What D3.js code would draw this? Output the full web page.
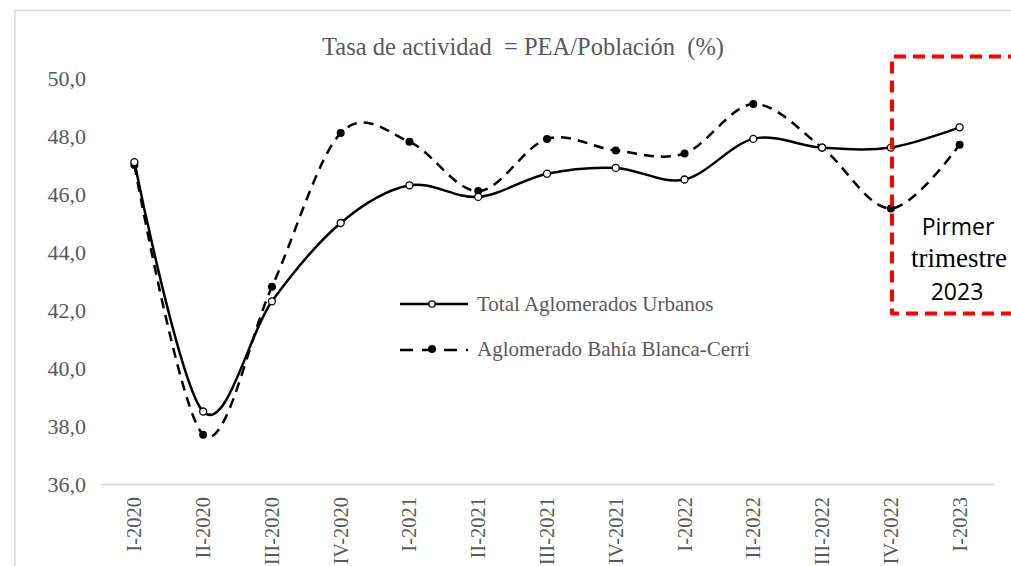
<!DOCTYPE html>
<html><head><meta charset="utf-8">
<script src="https://cdn.jsdelivr.net/npm/d3@7"></script>
<style>html,body{margin:0;padding:0;background:#fff;overflow:hidden}
.serif{font-family:"Liberation Serif","Times New Roman",Times,"DejaVu Serif",serif}
.sans{font-family:"Open Sans","Noto Sans",sans-serif}
</style>
</head><body>
<script>
const categories = ["I-2020","II-2020","III-2020","IV-2020","I-2021","II-2021","III-2021","IV-2021","I-2022","II-2022","III-2022","IV-2022","I-2023"];
const totalUrbanos = [47.1,38.5,42.3,45.0,46.3,45.9,46.7,46.9,46.5,47.9,47.6,47.6,48.3];
const bahiaBlanca = [47.0,37.7,42.8,48.1,47.8,46.1,47.9,47.5,47.4,49.1,47.6,45.5,47.7];
const yTicks = [36,38,40,42,44,46,48,50];
const seriesNames = ["Total Aglomerados Urbanos","Aglomerado Bahía Blanca-Cerri"];
const titleText = "Tasa de actividad  = PEA/Población  (%)";
const boxLines = ["Pirmer","trimestre","2023"];

const W = 1011, H = 566;
const svg = d3.select("body").append("svg").attr("width", W).attr("height", H);

svg.append("path").attr("d", "M15,566 V10.5 H1011").attr("fill","none").attr("stroke","#d9d9d9").attr("stroke-width",1.5);

const x = d3.scaleBand().domain(categories).range([100, 994]);
const cx = d => x(d) + x.bandwidth()/2;
const y = d3.scaleLinear().domain([36, 50]).range([484, 78]);

svg.append("text").attr("class","serif").attr("x", 523).attr("y", 55).attr("text-anchor","middle")
  .attr("font-size",24.5).attr("fill","#595959")
  .style("white-space","pre").text(titleText);

const yAxis = d3.axisLeft(y).tickValues(yTicks).tickSize(0).tickPadding(0)
  .tickFormat(d => d3.format(".1f")(d).replace(".", ","));
const gy = svg.append("g").attr("transform","translate(86,0)").call(yAxis);
gy.attr("font-family", null);
gy.select(".domain").remove();
gy.selectAll("text").attr("class","serif").attr("font-size",22).attr("fill","#595959").attr("dy","0.34em");

const xAxis = d3.axisBottom(x).tickSize(0).tickPadding(0);
const gx = svg.append("g").attr("transform","translate(0,484)").call(xAxis);
gx.attr("font-family", null);
gx.select(".domain").attr("stroke","#d9d9d9").attr("stroke-width",1.5);
gx.selectAll("text").attr("class","serif").attr("font-size",20.5).attr("fill","#595959")
  .attr("text-anchor","end").attr("transform","translate(7,13) rotate(-90)").attr("dy","0").attr("x",0).attr("y",0);

const line = d3.line().x((d,i) => cx(categories[i])).y(d => y(d)).curve(d3.curveCardinal.tension(0));
svg.append("path").datum(bahiaBlanca).attr("d", line).attr("fill","none").attr("stroke","#000")
  .attr("stroke-width",2.5).attr("stroke-dasharray","10,7");
svg.append("path").datum(totalUrbanos).attr("d", line).attr("fill","none").attr("stroke","#000")
  .attr("stroke-width",2.5);

svg.append("g").selectAll("circle").data(bahiaBlanca).join("circle")
  .attr("cx",(d,i)=>cx(categories[i])).attr("cy",d=>y(d)).attr("r",4).attr("fill","#000");
svg.append("g").selectAll("circle").data(totalUrbanos).join("circle")
  .attr("cx",(d,i)=>cx(categories[i])).attr("cy",d=>y(d)).attr("r",3.5).attr("fill","#fff")
  .attr("stroke","#000").attr("stroke-width",1.3);

const lg = svg.append("g");
lg.append("line").attr("x1",400).attr("x2",468).attr("y1",304).attr("y2",304).attr("stroke","#000").attr("stroke-width",2.5);
lg.append("circle").attr("cx",432).attr("cy",304).attr("r",3.2).attr("fill","#fff").attr("stroke","#000").attr("stroke-width",1.3);
lg.append("line").attr("x1",400).attr("x2",468).attr("y1",350).attr("y2",350).attr("stroke","#000").attr("stroke-width",2.5).attr("stroke-dasharray","13,9");
lg.append("circle").attr("cx",432).attr("cy",349).attr("r",4).attr("fill","#000");
lg.selectAll("text").data(seriesNames).join("text").attr("class","serif")
  .attr("x",477).attr("y",(d,i)=> i===0 ? 311 : 356)
  .attr("font-size",21).attr("fill","#595959").text(d=>d);

svg.append("path").attr("d","M1020,56.5 H892 V313.5 H1020").attr("fill","none").attr("stroke","#ff0000")
  .attr("stroke-width",4).attr("stroke-dasharray","12,7").attr("stroke-linejoin","round");
const bt = svg.append("g");
bt.append("text").attr("class","sans").attr("x",958).attr("y",235).attr("text-anchor","middle").attr("font-size",23).attr("fill","#000").text(boxLines[0]);
bt.append("text").attr("class","serif").attr("x",959).attr("y",267).attr("text-anchor","middle").attr("font-size",27).attr("fill","#000").text(boxLines[1]);
bt.append("text").attr("class","sans").attr("x",957).attr("y",300).attr("text-anchor","middle").attr("font-size",23).attr("fill","#000").text(boxLines[2]);
</script>
</body></html>
